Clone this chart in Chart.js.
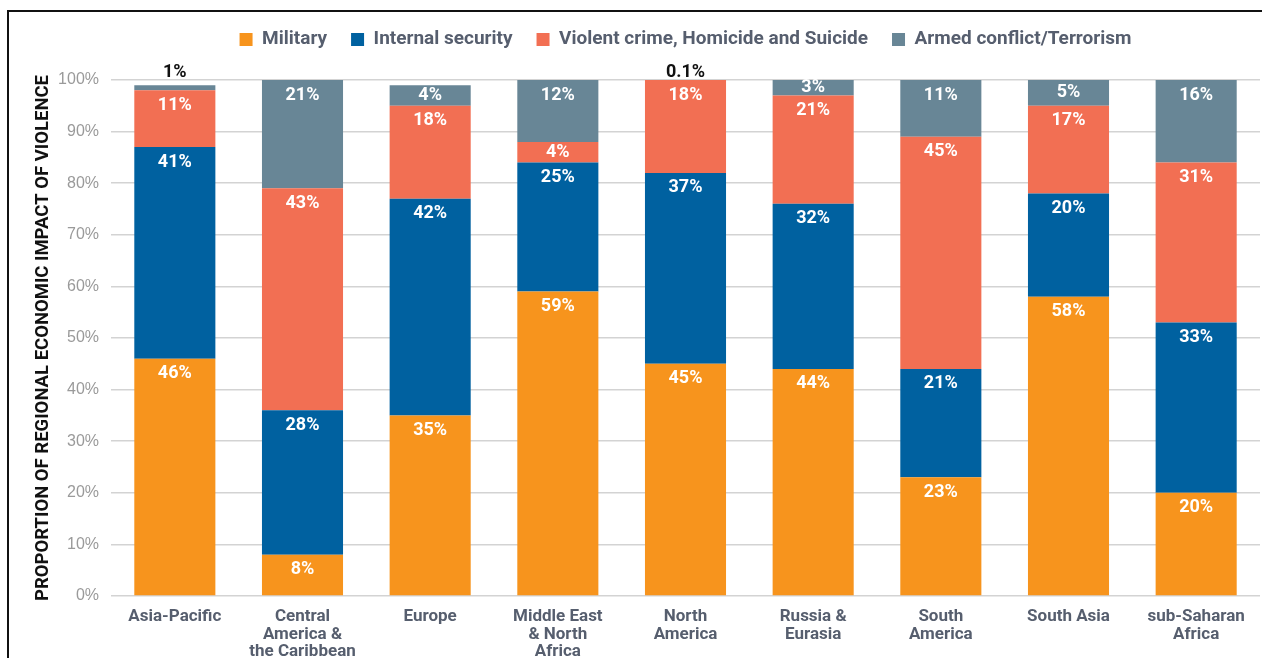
<!DOCTYPE html>
<html>
<head>
<meta charset="utf-8">
<script src="https://cdn.jsdelivr.net/npm/chart.js@4"></script>
<style>
	html, body { margin: 0; padding: 0; background: #fff; overflow: hidden; }
	#wrap { position: relative; width: 1262px; height: 658px; }
	#frame { position: absolute; left: 7px; top: 10px; width: 1300px; height: 700px; border: 2px solid #111; }
	#myStackedChart { position: absolute; left: 0; top: 0; }
</style>
</head>
<body>
<div id="wrap">
	<div id="frame"></div>
	<canvas id="myStackedChart" width="1262" height="658"></canvas>
</div>
<script>
/* DATA */
var regions = [
	'Asia-Pacific',
	['Central', 'America &', 'the Caribbean'],
	'Europe',
	['Middle East', '& North', 'Africa'],
	['North', 'America'],
	['Russia &', 'Eurasia'],
	['South', 'America'],
	'South Asia',
	['sub-Saharan', 'Africa']
];
var military         = [46, 8, 35, 59, 45, 44, 23, 58, 20];
var internalSecurity = [41, 28, 42, 25, 37, 32, 21, 20, 33];
var violentCrime     = [11, 43, 18, 4, 18, 21, 45, 17, 31];
var armedConflict    = [1, 21, 4, 12, 0.1, 3, 11, 5, 16];
var yTicks = [0, 10, 20, 30, 40, 50, 60, 70, 80, 90, 100];

/* VALUE LABELS ON SEGMENTS */
var segmentLabels = {
	id: 'segmentLabels',
	afterInit: function(chart) {
		var legend = chart.legend;
		// leave some room between legend and plot
		var fit = legend.fit;
		legend.fit = function() {
			fit.call(this);
			this.height += 21;
		};
		// center the legend over the plot area instead of the canvas
		var draw = legend.draw;
		legend.draw = function() {
			var area = chart.chartArea;
			var dx = (area.left + area.right) / 2 - (this.left + this.right) / 2;
			this.ctx.save();
			this.ctx.translate(dx, 0);
			draw.call(this);
			this.ctx.restore();
		};
	},
	afterDatasetsDraw: function(chart) {
		var ctx = chart.ctx;
		ctx.save();
		ctx.font = 'bold 18px Roboto';
		ctx.textAlign = 'center';
		ctx.textBaseline = 'middle';
		chart.data.datasets.forEach(function(ds, i) {
			var meta = chart.getDatasetMeta(i);
			meta.data.forEach(function(bar, j) {
				var v = ds.data[j];
				var p = bar.getProps(['x', 'y', 'base'], true);
				var top = Math.min(p.y, p.base);
				var bottom = Math.max(p.y, p.base);
				var text = v + '%';
				if (v < 2) {
					ctx.fillStyle = '#111';
					ctx.fillText(text, p.x, chart.chartArea.top - 8);
				} else {
					ctx.fillStyle = '#fff';
					ctx.fillText(text, p.x, Math.min(top + 15, (top + bottom) / 2));
				}
			});
		});
		ctx.restore();
	}
};

/* STACKED BAR CHART */
var ctxBar = document.getElementById("myStackedChart").getContext("2d");
var myStackedChart = new Chart(ctxBar, {
	type: 'bar',
	data: {
		labels: regions,
		datasets: [{
			label: 'Military',
			data: military,
			backgroundColor: '#F7941D'
		}, {
			label: 'Internal security',
			data: internalSecurity,
			backgroundColor: '#0061A0'
		}, {
			label: 'Violent crime, Homicide and Suicide',
			data: violentCrime,
			backgroundColor: '#F26F53'
		}, {
			label: 'Armed conflict/Terrorism',
			data: armedConflict,
			backgroundColor: '#688696'
		}]
	},
	options: {
		responsive: false,
		animation: false,
		layout: {
			padding: { left: 20, right: 2, top: 6, bottom: 0 }
		},
		datasets: {
			bar: {
				barPercentage: 0.635,
				categoryPercentage: 1,
				borderWidth: 0
			}
		},
		plugins: {
			legend: {
				display: true,
				position: 'top',
				labels: {
					boxWidth: 13,
					boxHeight: 13,
					padding: 24,
					color: '#565E6E',
					font: { family: 'Roboto', size: 19, weight: 'bold' }
				}
			},
			tooltip: { enabled: false }
		},
		scales: {
			x: {
				stacked: true,
				grid: { display: false },
				border: { display: false },
				ticks: {
					color: '#565E6E',
					padding: 4,
					maxRotation: 0,
					autoSkip: false,
					font: { family: 'Roboto', size: 17, weight: 'bold', lineHeight: 1.03 }
				},
				afterFit: function(scale) { scale.height = 62; }
			},
			y: {
				stacked: true,
				min: 0,
				max: 100,
				afterBuildTicks: function(scale) {
					scale.ticks = yTicks.map(function(v) { return { value: v }; });
				},
				grid: { color: '#D3D3D3', lineWidth: 1.5, drawTicks: false },
				border: { display: false },
				ticks: {
					color: '#9A9A9A',
					padding: 12,
					font: { family: 'Liberation Sans', size: 16 },
					callback: function(v) { return v + '%'; }
				},
				title: {
					display: true,
					text: 'PROPORTION OF REGIONAL ECONOMIC IMPACT OF VIOLENCE',
					color: '#111',
					padding: { top: 12, bottom: 0 },
					font: { family: 'Roboto', size: 18.5, weight: 'bold' }
				},
				afterFit: function(scale) { scale.width = 91; }
			}
		}
	},
	plugins: [segmentLabels]
});
</script>
</body>
</html>
